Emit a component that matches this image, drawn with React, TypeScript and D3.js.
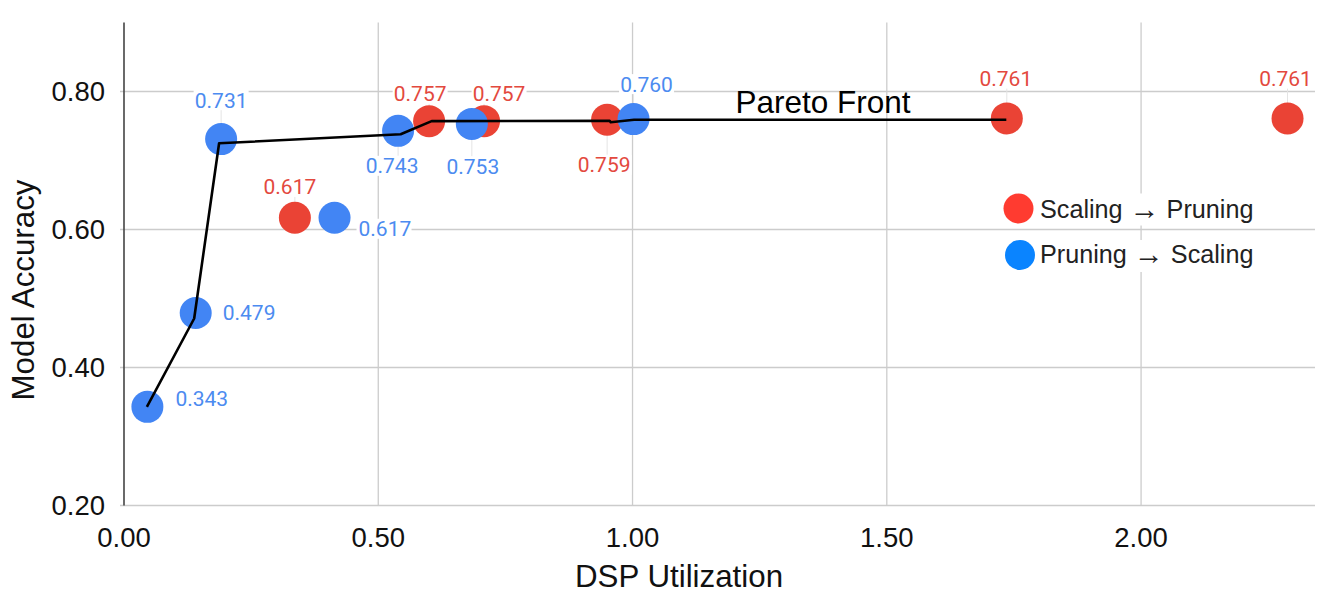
import React from 'react';
import * as d3 from 'd3';

// ---- data ----
const redX = [0.336, 0.600, 0.708, 0.950, 1.736, 2.288];
const redY = [0.617, 0.757, 0.757, 0.759, 0.761, 0.761];
const blueX = [0.046, 0.141, 0.191, 0.414, 0.539, 0.684, 1.002];
const blueY = [0.343, 0.479, 0.731, 0.617, 0.743, 0.753, 0.760];
const paretoX = [0.045, 0.138, 0.187, 0.544, 0.605, 0.955, 0.957, 1.003, 1.735];
const paretoY = [0.343, 0.471, 0.725, 0.738, 0.757, 0.7575, 0.7555, 0.759, 0.759];
const xTicks = [0, 0.5, 1.0, 1.5, 2.0];
const yTicks = [0.2, 0.4, 0.6, 0.8];
const seriesFrom = ['Scaling', 'Pruning'];
const seriesTo = ['Pruning', 'Scaling'];

// ---- label layout (style) ----
const redLabelDx = [-5, -9, 15, -3, -1, -2];
const redLabelDy = [-31, -27.5, -27.5, 45, -40, -40];
const redLabelAnchor = ['middle', 'middle', 'middle', 'middle', 'middle', 'middle'];
const blueLabelDx = [28, 27, 0, 24, -6, 1, 13];
const blueLabelDy = [-8.5, 0, -39, 11, 35, 42.5, -35];
const blueLabelAnchor = ['start', 'start', 'middle', 'start', 'middle', 'middle', 'middle'];

const RED = '#ea4335';
const BLUE = '#4285f4';
const RED_LABEL = '#e3493e';
const BLUE_LABEL = '#4c8bf0';
const GRID = '#cccccc';

const W = 1329;
const H = 594;

export default function App() {
  const x = d3.scaleLinear().domain([0, 2.342]).range([124, 1315]);
  const y = d3.scaleLinear().domain([0.2, 0.9]).range([505.5, 22.5]);
  const [x0, x1] = x.range();
  const [yb, yt] = y.range();
  const line = d3
    .line<number>()
    .x((_, i) => x(paretoX[i]))
    .y((_, i) => y(paretoY[i]));
  const fmt = d3.format('.2f');
  const fmt3 = d3.format('.3f');

  const makePts = (xs: number[], ys: number[], dxs: number[], dys: number[], anchors: string[]) =>
    xs.map((v, i) => ({
      cx: x(v),
      cy: y(ys[i]),
      label: fmt3(ys[i]),
      dx: dxs[i],
      dy: dys[i],
      anchor: anchors[i],
    }));
  const redPts = makePts(redX, redY, redLabelDx, redLabelDy, redLabelAnchor);
  const bluePts = makePts(blueX, blueY, blueLabelDx, blueLabelDy, blueLabelAnchor);

  const labelW = 55;
  const labelH = 20;

  const renderLeaders = (pts: any[]) =>
    pts.map((p, i) =>
      p.anchor === 'middle' ? (
        <line
          key={i}
          x1={p.cx}
          x2={p.cx}
          y1={p.cy}
          y2={p.cy + p.dy + (p.dy < 0 ? labelH / 2 : -labelH / 2)}
          stroke="#e4e4e4"
          strokeWidth={1}
        />
      ) : null
    );

  const renderLabels = (pts: any[], color: string) =>
    pts.map((p, i) => {
      const tx = p.cx + p.dx;
      const ty = p.cy + p.dy;
      const rx = p.anchor === 'start' ? tx - 2 : tx - labelW / 2;
      return (
        <g key={i}>
          <rect x={rx} y={ty - labelH / 2} width={labelW} height={labelH} fill="#fff" />
          <text
            x={tx}
            y={ty + 7.5}
            textAnchor={p.anchor}
            fontFamily="Roboto, 'Noto Sans', sans-serif"
            fontSize={21}
            fill={color}
          >
            {p.label}
          </text>
        </g>
      );
    });

  const sans = "'Liberation Sans', Arial, sans-serif";
  const legendColors = ['#ff3b30', '#0a84ff'];
  const legendCx = [1018.5, 1020];
  const legendCy = [208.5, 255];
  const legendBase = [218.3, 263.3];

  return (
    <svg
      width={W}
      height={H}
      style={{ position: 'absolute', left: 0, top: 0, background: '#fff' }}
      xmlns="http://www.w3.org/2000/svg"
    >
      <rect x={0} y={0} width={W} height={H} fill="#fff" />
      {/* gridlines */}
      {yTicks.map((t) => (
        <line key={'gy' + t} x1={x0 - 4} x2={x1} y1={y(t)} y2={y(t)} stroke={GRID} strokeWidth={1.3} />
      ))}
      {xTicks
        .filter((t) => t > 0)
        .map((t) => (
          <line key={'gx' + t} x1={x(t)} x2={x(t)} y1={yt} y2={yb} stroke={GRID} strokeWidth={1.3} />
        ))}
      {/* left axis */}
      <line x1={x0} x2={x0} y1={yt} y2={yb} stroke="#444" strokeWidth={1.6} />

      {/* tick labels */}
      {yTicks.map((t) => (
        <text
          key={'ty' + t}
          x={105}
          y={y(t) + 9.8}
          textAnchor="end"
          fontFamily={sans}
          fontSize={27.5}
          fill="#111"
        >
          {fmt(t)}
        </text>
      ))}
      {xTicks.map((t) => (
        <text
          key={'tx' + t}
          x={x(t)}
          y={546.7}
          textAnchor="middle"
          fontFamily={sans}
          fontSize={27.5}
          fill="#111"
        >
          {fmt(t)}
        </text>
      ))}

      {/* axis titles */}
      <text x={679} y={587} textAnchor="middle" fontFamily={sans} fontSize={31.3} fill="#111">
        DSP Utilization
      </text>
      <text
        transform="translate(33.5,290) rotate(-90)"
        textAnchor="middle"
        fontFamily={sans}
        fontSize={31.3}
        fill="#111"
      >
        Model Accuracy
      </text>

      {/* leaders */}
      {renderLeaders(redPts)}
      {renderLeaders(bluePts)}

      {/* labels */}
      {renderLabels(redPts, RED_LABEL)}
      {renderLabels(bluePts, BLUE_LABEL)}

      {/* points */}
      {redPts.map((p, i) => (
        <circle key={'r' + i} cx={p.cx} cy={p.cy} r={16} fill={RED} />
      ))}
      {bluePts.map((p, i) => (
        <circle key={'b' + i} cx={p.cx} cy={p.cy} r={16} fill={BLUE} />
      ))}

      {/* pareto front */}
      <path d={line(paretoX) || ''} fill="none" stroke="#000" strokeWidth={2.6} strokeLinejoin="round" />
      <text x={735.5} y={113.3} fontFamily={sans} fontSize={31.5} fill="#000">
        Pareto Front
      </text>

      {/* legend */}
      {seriesFrom.map((name, i) => (
        <g key={'lg' + i}>
          <rect x={1036} y={legendCy[i] - 15} width={218} height={32} fill="#fff" />
          <circle cx={legendCx[i]} cy={legendCy[i]} r={15} fill={legendColors[i]} />
          <text x={1040} y={legendBase[i]} fontFamily={sans} fontSize={25.2} fill="#222">
            {name + ' '}
            <tspan fontSize={30} dy={1}>{'\u2192'}</tspan>
            <tspan dy={-1}>{' ' + seriesTo[i]}</tspan>
          </text>
        </g>
      ))}
    </svg>
  );
}
